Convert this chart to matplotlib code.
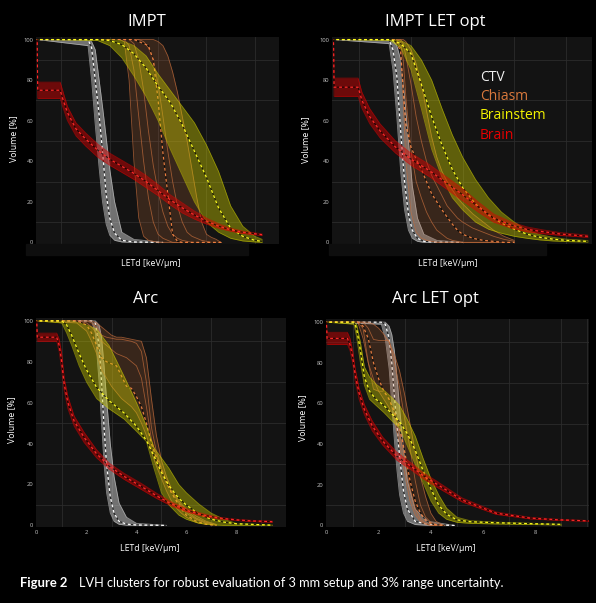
import numpy as np
import matplotlib
matplotlib.use("Agg")
import matplotlib.pyplot as plt
from matplotlib.patches import Rectangle

plt.rcParams['font.family'] = ['Open Sans', 'DejaVu Sans']

# ---------------- IMPT ----------------
impt_ctv_x = [0, 2.1, 2.25, 2.4, 2.55, 2.7, 2.85, 3.0, 3.2, 3.5, 4.0, 5.2]
impt_ctv_lo = [100, 97, 80, 58, 38, 20, 9, 3.5, 1, 0.2, 0, 0]
impt_ctv_hi = [100, 100, 99, 95, 81, 67, 52, 36, 20, 5, 1.5, 0]
impt_ctv_nom = [100, 100, 96, 80, 64, 45, 24, 12, 4.5, 1, 0.2, 0]

impt_chiasm_x = [0, 3.4, 3.6, 3.8, 4.0, 4.2, 4.4, 4.6, 4.8, 5.0, 5.2, 5.4,
                 5.6, 5.8, 6.0, 6.2, 6.4, 6.6, 6.8, 7.0, 7.2, 7.4, 7.6]
impt_chiasm_curves = [
    [100, 100, 99, 80, 40, 12, 3, 1, 0.5, 0, 0, 0, 0, 0, 0, 0, 0, 0, 0, 0, 0, 0, 0],
    [100, 100, 100, 97, 85, 62, 40, 22, 10, 4, 2, 1, 0, 0, 0, 0, 0, 0, 0, 0, 0, 0, 0],
    [100, 100, 100, 100, 98, 90, 75, 55, 38, 25, 15, 8, 4, 2, 1, 0.5, 0, 0, 0, 0, 0, 0, 0],
    [100, 100, 100, 100, 100, 100, 99, 96, 90, 78, 62, 45, 30, 18, 10, 5, 3, 2, 1, 0.5, 0, 0, 0],
    [100, 100, 100, 100, 100, 100, 100, 100, 100, 99, 97, 92, 84, 74, 62, 50, 36, 22, 10, 4, 2.5, 1.5, 0],
]
impt_chiasm_nom = [100, 100, 100, 100, 100, 99, 98, 97, 90, 70, 44, 24, 4, 0.5, 0, 0, 0, 0, 0, 0, 0, 0, 0]

impt_stem_x = [0, 2.5, 3.0, 3.5, 4.0, 4.5, 5.0, 5.5, 6.0, 6.5, 7.0, 7.5, 8.0, 8.5, 9.0, 9.3]
impt_stem_lo = [100, 99.5, 97, 91, 82, 72, 60, 46, 33, 20, 10, 5, 2, 0.7, 0.2, 0]
impt_stem_hi = [100, 100, 100, 99.5, 97, 92, 83, 75, 67, 59, 48, 35, 18, 8, 3, 1.5]
impt_stem_nom = [100, 100, 99.5, 97.5, 93, 86, 77, 69, 58, 45, 32, 17, 7, 3, 1, 0.5]

impt_brain_x = [0, 0.02, 0.95, 1.05, 1.25, 1.6, 2.0, 2.5, 3.0, 3.5, 4.0, 4.5,
                5.0, 5.5, 6.0, 6.5, 7.0, 7.5, 8.0, 8.5, 9.3]
impt_brain_lo = [100, 71, 71, 67, 60, 52.5, 47.5, 42, 38, 34.5, 31, 27, 23, 18.5,
                 14.5, 11.5, 9, 7, 5.5, 4.4, 3.4]
impt_brain_hi = [100, 79, 79, 75, 67, 59, 54, 48.5, 44, 40.5, 37, 33, 28.5, 23.5,
                 19.5, 15.5, 12, 9.2, 7, 5.6, 4.2]
impt_brain_nom = [100, 75, 75, 71, 64, 56, 51, 45.5, 41, 37.5, 34, 30, 25.5, 21,
                  17, 13.5, 10.5, 8, 6.2, 5, 3.8]

# ---------------- IMPT LET opt ----------------
let_ctv_x = [0, 2.15, 2.3, 2.45, 2.6, 2.75, 2.9, 3.05, 3.25, 3.5, 4.0, 5.0]
let_ctv_lo = [100, 98, 85, 62, 35, 16, 6, 2, 0.5, 0, 0, 0]
let_ctv_hi = [100, 100, 99.5, 97, 90, 72, 50, 28, 12, 4, 1, 0]
let_ctv_nom = [100, 100, 95, 82, 55, 30, 14, 6, 2, 0.5, 0.1, 0]

let_chiasm_x = [0, 2.4, 2.6, 2.7, 2.8, 3.0, 3.2, 3.4, 3.6, 3.8, 4.0, 4.2, 4.4,
                4.6, 4.8, 5.0, 5.4, 5.8, 6.2, 6.6, 7.0]
let_chiasm_curves = [
    [100, 100, 96, 70, 40, 15, 5, 2, 1, 0.5, 0, 0, 0, 0, 0, 0, 0, 0, 0, 0, 0],
    [100, 100, 99, 90, 72, 45, 30, 22, 15, 10, 6, 4, 2, 1, 0.5, 0, 0, 0, 0, 0, 0],
    [100, 100, 100, 98, 92, 78, 62, 50, 40, 33, 28, 23, 18, 15, 12, 10, 7, 5, 3, 1.5, 0.5],
    [100, 100, 100, 100, 99, 95, 88, 78, 65, 52, 42, 35, 30, 26, 22, 19, 14, 10, 6, 3, 1],
]
let_chiasm_nom = [100, 100, 94, 75, 58, 47, 41, 36, 30, 24, 20, 16, 12.5, 9, 6, 4,
                  2, 1, 0.5, 0, 0]

let_stem_x = [0, 2.2, 2.6, 3.0, 3.4, 3.8, 4.2, 4.6, 5.0, 5.5, 6.0, 6.5, 7.0,
              7.5, 8.0, 8.5, 9.0, 9.85]
let_stem_lo = [100, 99.5, 96, 85, 66, 46, 32, 22, 16, 10, 6.5, 4.5, 3, 2, 1.2, 0.7, 0.4, 0.2]
let_stem_hi = [100, 100, 99.5, 97, 90, 80, 66, 53, 42, 31, 22, 15, 10, 6, 3.8, 2.5, 1.6, 0.9]
let_stem_nom = [100, 100, 98, 93, 78, 62, 48, 36, 27, 19, 13.5, 9.5, 6.5, 4, 2.5, 1.6, 1.0, 0.5]

let_brain_x = [0, 0.02, 0.95, 1.1, 1.4, 1.8, 2.4, 3.0, 3.7, 4.3, 5.0, 5.6, 6.2,
               6.9, 7.5, 8.1, 8.8, 9.85]
let_brain_lo = [100, 72, 72, 66, 58.5, 51.5, 44, 38, 32.5, 27, 20.5, 15, 10, 7,
                5.2, 4.3, 3.4, 2.5]
let_brain_hi = [100, 81, 81, 74, 66, 58.5, 50, 44, 38.5, 33, 26.5, 20, 14, 10,
                7.6, 6.2, 4.8, 3.6]
let_brain_nom = [100, 76.5, 76.5, 70, 62, 55, 47, 41, 35.5, 30, 23.5, 17.5, 12,
                 8.5, 6.4, 5.3, 4.1, 3.0]

# ---------------- Arc ----------------
arc_ctv_x = [0, 2.2, 2.35, 2.5, 2.6, 2.7, 2.8, 2.95, 3.1, 3.3, 3.6, 4.0, 5.2]
arc_ctv_lo = [100, 100, 94, 70, 50, 30, 16, 6, 2, 0.5, 0.1, 0, 0]
arc_ctv_hi = [100, 100, 100, 98, 92, 78, 62, 40, 24, 11, 4, 1, 0]
arc_ctv_nom = [100, 100, 99, 88, 70, 48, 30, 14, 6, 2, 0.6, 0.2, 0]

arc_chiasm_x = [0, 1.6, 2.0, 2.2, 2.4, 2.6, 2.8, 3.0, 3.2, 3.4, 3.6, 3.8, 4.0,
                4.2, 4.4, 4.6, 4.8, 5.0, 5.2, 5.4, 5.6, 5.8, 6.0, 6.4, 6.8, 7.2]
arc_chiasm_curves = [
    [100, 99, 95, 90, 84, 76, 72, 68, 65, 62, 60, 58, 55, 50, 44, 36, 29, 23, 17, 12,
     8.5, 6, 4, 1.5, 0.5, 0],
    [100, 100, 99, 97, 94, 90, 88, 86, 84, 83, 82, 80, 78, 72, 58, 42, 34, 27, 21, 16,
     12, 9, 6, 3, 1, 0],
    [100, 100, 100, 99, 97, 93, 92, 91.5, 91, 91, 90.5, 90, 89, 85, 70, 48, 36, 28, 22, 17,
     13, 9.5, 7, 3.5, 1.5, 0.3],
    [100, 100, 100, 100, 99, 97, 95, 93, 92, 92, 91.5, 91, 90.5, 90, 82, 62, 44, 32, 24, 18,
     14, 10.5, 8, 4.5, 2, 0.5],
]
arc_chiasm_nom = [100, 100, 98, 94, 88, 82, 80, 79, 78, 73, 68, 67, 63, 58, 50, 40,
                  33, 27, 21, 16, 12, 8, 5, 2, 0.5, 0]

arc_stem_x = [0, 1.0, 1.2, 1.4, 1.7, 2.0, 2.4, 2.9, 3.5, 4.0, 4.4, 4.7, 5.0, 5.3,
              5.7, 6.0, 6.5, 7.0, 7.5, 8.0, 9.45]
arc_stem_lo = [100, 99, 94, 88, 78, 70, 62, 57, 52, 46, 41, 28, 16, 10, 5, 3, 1,
               0.3, 0, 0, 0]
arc_stem_hi = [100, 100, 100, 100, 99, 98, 96, 88, 73, 60, 48.5, 38, 33, 28, 20, 16,
               10.5, 6, 3, 1, 0.2]
arc_stem_nom = [100, 100, 98, 93, 84, 76, 67.5, 61, 55, 48.5, 41.5, 34, 26, 19.5,
                13.2, 10, 5.5, 3, 1.6, 0.8, 0.1]

arc_brain_x = [0, 0.02, 0.8, 0.9, 1.0, 1.1, 1.25, 1.5, 1.9, 2.4, 2.9, 3.5, 4.2,
               4.8, 5.4, 6.1, 6.7, 7.3, 8.0, 8.6, 9.45]
arc_brain_lo = [100, 90, 90, 85, 76, 66, 57, 48.5, 40.5, 33, 27.5, 22.5, 17.5, 13.2,
                9.5, 6.3, 4.4, 3.2, 2.4, 1.9, 1.5]
arc_brain_hi = [100, 94, 94, 91, 84, 72, 63, 53.5, 45.5, 37, 30.5, 25.5, 20.5, 15.8,
                11.5, 7.7, 5.6, 4.0, 3.0, 2.5, 2.1]
arc_brain_nom = [100, 92, 92, 88, 80, 69, 60, 51, 43, 35, 29, 24, 19, 14.5, 10.5,
                 7, 5, 3.6, 2.7, 2.2, 1.8]

# ---------------- Arc LET opt ----------------
arcl_ctv_x = [0, 2.1, 2.25, 2.4, 2.5, 2.6, 2.7, 2.8, 2.95, 3.1, 3.4, 3.9, 4.9]
arcl_ctv_lo = [100, 99, 92, 77, 60, 42, 27, 15, 6, 2, 0.4, 0, 0]
arcl_ctv_hi = [100, 100, 100, 98, 94, 86, 73, 58, 38, 22, 8, 2, 0]
arcl_ctv_nom = [100, 100, 99, 92, 80, 64, 49, 34, 17, 8, 2, 0.4, 0]

arcl_chiasm_x = [0, 1.2, 1.4, 1.6, 1.8, 2.0, 2.2, 2.4, 2.6, 2.8, 3.0, 3.2, 3.4,
                 3.6, 3.8, 4.0, 4.2, 4.5]
arcl_chiasm_curves = [
    [100, 100, 92, 80, 72, 66, 62, 58, 52, 40, 25, 12, 5, 2, 0.5, 0, 0, 0],
    [100, 100, 97, 80, 67, 66, 66, 62, 55, 45, 32, 18, 8, 3, 1, 0, 0, 0],
    [100, 100, 100, 97, 91.5, 91, 91, 91, 80, 68, 52, 38, 22, 10, 4, 1.5, 0.5, 0],
    [100, 100, 100, 100, 99, 97, 94, 90, 84, 76, 64, 50, 36, 24, 14, 6, 2, 0],
]
arcl_chiasm_nom = [100, 100, 98, 92, 80, 72, 66, 62, 56, 48, 36, 22, 12, 6, 2.5, 1, 0.3, 0]

arcl_stem_x = [0, 1.05, 1.15, 1.3, 1.45, 1.65, 1.9, 2.2, 2.5, 2.8, 3.1, 3.4, 3.7,
               4.0, 4.3, 4.6, 5.0, 5.5, 6.5, 8.0, 9.0]
arcl_stem_lo = [100, 99, 93, 80, 69, 62, 59, 55.5, 51.5, 48, 39, 30, 21, 12, 6, 3,
                1.5, 1, 0.7, 0.4, 0.2]
arcl_stem_hi = [100, 100, 99, 90, 78, 73, 69.5, 66.5, 63, 59, 52, 44, 33, 23, 15,
                8.5, 4, 2.3, 1.6, 1.0, 0.6]
arcl_stem_nom = [100, 100, 97, 86, 73, 66, 62, 59, 55, 51, 45, 37, 27, 18, 10, 5.5,
                 2.7, 1.8, 1.3, 0.8, 0.5]

arcl_brain_x = [0, 0.02, 0.8, 0.9, 1.0, 1.1, 1.25, 1.45, 1.75, 2.15, 2.7, 3.3, 3.7,
                4.2, 5.2, 6.5, 7.8, 8.8, 10.05]
arcl_brain_lo = [100, 89, 89, 86, 80, 71, 62, 54.5, 46.5, 39.5, 32, 26.8, 23, 19,
                 11.5, 5.4, 3.2, 2.5, 2.0]
arcl_brain_hi = [100, 95, 95, 92, 86, 77, 67.5, 59.5, 51.5, 43.5, 36, 30.2, 26, 22,
                 13.5, 6.6, 4.0, 3.1, 2.4]
arcl_brain_nom = [100, 92, 92, 89, 83, 74, 65, 57, 49, 41.5, 34, 28.5, 24.5, 20.5,
                  12.5, 6, 3.6, 2.8, 2.2]

structures = ['CTV', 'Chiasm', 'Brainstem', 'Brain']
legend_colors = ['#f0f0f0', '#d8783c', '#f2f200', '#e60000']

W, H = 596, 603
fig = plt.figure(figsize=(W / 100, H / 100), dpi=100, facecolor='black')


def fx(x):
    return x / W


def fy(y):
    return 1 - y / H


ctv_col, ctv_nom = '#cfcfcf', '#ffffff'
chi_col, chi_nom = '#bf6a3a', '#f08040'
stem_col, stem_nom = '#d2d200', '#ffff20'
brain_col, brain_nom = '#dd0000', '#ff2a2a'


def cluster(ax, x, curves, nom, col, ncol, alpha=0.3, lalpha=0.55, z=2):
    arr = np.array(curves, dtype=float)
    ax.fill_between(x, arr.min(axis=0), arr.max(axis=0), color=col, alpha=alpha,
                    lw=0, zorder=z)
    for c in curves:
        ax.plot(x, c, color=col, lw=0.6, alpha=lalpha, zorder=z + 0.1)
    ax.plot(x, nom, color='black', lw=0.8, alpha=0.7, ls=(0, (2.5, 2.5)), zorder=z + 0.2)
    ax.plot(x, nom, color=ncol, lw=0.8, ls=(2.5, (2.5, 2.5)), zorder=z + 0.3)


panels = [
    dict(title='IMPT', box=(36, 36.7, 279, 244), xlim=(-0.05, 9.3),
         title_xy=(147, 26), xlab_xy=(150.5, 266), ylab_xy=(13.3, 139),
         ctv=(impt_ctv_x, [impt_ctv_lo, impt_ctv_hi], impt_ctv_nom),
         chi=(impt_chiasm_x, impt_chiasm_curves, impt_chiasm_nom),
         stem=(impt_stem_x, [impt_stem_lo, impt_stem_hi], impt_stem_nom),
         brain=(impt_brain_x, [impt_brain_lo, impt_brain_hi], impt_brain_nom)),
    dict(title='IMPT LET opt', box=(332, 36.7, 591.7, 244), xlim=(-0.06, 9.84),
         title_xy=(435, 26), xlab_xy=(447.5, 266), ylab_xy=(306, 140),
         ctv=(let_ctv_x, [let_ctv_lo, let_ctv_hi], let_ctv_nom),
         chi=(let_chiasm_x, let_chiasm_curves, let_chiasm_nom),
         stem=(let_stem_x, [let_stem_lo, let_stem_hi], let_stem_nom),
         brain=(let_brain_x, [let_brain_lo, let_brain_hi], let_brain_nom)),
    dict(title='Arc', box=(36, 318, 286, 527), xlim=(-0.03, 9.47),
         title_xy=(145.5, 302.7), xlab_xy=(150, 551), ylab_xy=(11.7, 420),
         ctv=(arc_ctv_x, [arc_ctv_lo, arc_ctv_hi], arc_ctv_nom),
         chi=(arc_chiasm_x, arc_chiasm_curves, arc_chiasm_nom),
         stem=(arc_stem_x, [arc_stem_lo, arc_stem_hi], arc_stem_nom),
         brain=(arc_brain_x, [arc_brain_lo, arc_brain_hi], arc_brain_nom)),
    dict(title='Arc LET opt', box=(326, 319.3, 588.7, 527), xlim=(-0.02, 10.05),
         title_xy=(435.5, 302.7), xlab_xy=(446, 551), ylab_xy=(303, 418),
         ctv=(arcl_ctv_x, [arcl_ctv_lo, arcl_ctv_hi], arcl_ctv_nom),
         chi=(arcl_chiasm_x, arcl_chiasm_curves, arcl_chiasm_nom),
         stem=(arcl_stem_x, [arcl_stem_lo, arcl_stem_hi], arcl_stem_nom),
         brain=(arcl_brain_x, [arcl_brain_lo, arcl_brain_hi], arcl_brain_nom)),
]

# dark strips behind x tick labels (top row)
for l, r in [(26, 248), (329, 546)]:
    fig.patches.append(Rectangle((fx(l), fy(255)), (r - l) / W, 11 / H,
                                 transform=fig.transFigure, color='#0e0e0e', zorder=0))

for p in panels:
    l, t, r, b = p['box']
    ax = fig.add_axes([fx(l), fy(b), (r - l) / W, (b - t) / H])
    ax.set_facecolor('#131313')
    ax.set_xlim(*p['xlim'])
    ax.set_ylim(-0.8, 101.4)
    ax.set_xticks([0, 2, 4, 6, 8])
    ax.set_yticks([0, 20, 40, 60, 80, 100])
    ax.set_xticks(np.arange(0, 11, 1), minor=True)
    ax.set_yticks(np.arange(0, 101, 10), minor=True)
    ax.grid(which='minor', color='#2c2c2c', lw=0.6)
    ax.tick_params(which='both', length=0, labelsize=4.2, colors='#c4c4c4')
    ax.tick_params(axis='y', pad=2)
    ax.tick_params(axis='x', pad=2.2)
    for s in ax.spines.values():
        s.set_visible(False)
    ax.set_axisbelow(True)

    x, cs, nom = p['ctv']
    cluster(ax, x, cs, nom, ctv_col, ctv_nom, alpha=0.5, lalpha=0.6, z=2)
    x, cs, nom = p['chi']
    cluster(ax, x, cs, nom, chi_col, chi_nom, alpha=0.22, lalpha=0.75, z=3)
    x, cs, nom = p['stem']
    cluster(ax, x, cs, nom, stem_col, stem_nom, alpha=0.4, lalpha=0.5, z=4)
    x, cs, nom = p['brain']
    cluster(ax, x, cs, nom, brain_col, brain_nom, alpha=0.45, lalpha=0.5, z=5)

    fig.text(fx(p['title_xy'][0]), fy(p['title_xy'][1]), p['title'], color='white',
             fontsize=12, ha='center', va='baseline')
    fig.text(fx(p['xlab_xy'][0]), fy(p['xlab_xy'][1]), 'LETd [keV/\u00b5m]',
             color='white', fontsize=6.3, ha='center', va='baseline')
    fig.text(fx(p['ylab_xy'][0]), fy(p['ylab_xy'][1]), 'Volume [%]', color='white',
             fontsize=6.3, ha='center', va='center', rotation=90)

# structure legend inside IMPT LET opt
for name, col, yb in zip(structures, legend_colors, [81, 100, 119.3, 139.3]):
    fig.text(fx(480), fy(yb), name, color=col, fontsize=10, ha='left', va='baseline')

fig.text(fx(20), fy(587), 'Figure 2', color='white', fontsize=9.4, weight='bold',
         family=['Lato', 'DejaVu Sans'], ha='left', va='baseline')
fig.text(fx(79), fy(587),
         'LVH clusters for robust evaluation of 3 mm setup and 3% range uncertainty.',
         color='white', fontsize=9.2, family=['Lato', 'DejaVu Sans'],
         ha='left', va='baseline')

fig.savefig('out.png', dpi=100, facecolor='black')
